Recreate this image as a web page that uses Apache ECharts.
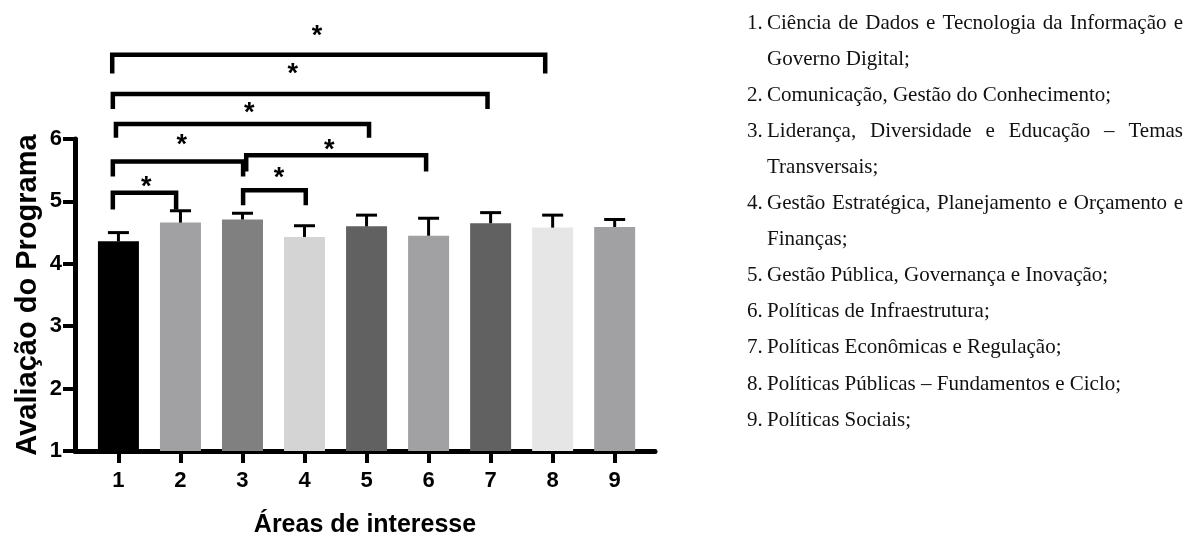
<!DOCTYPE html>
<html>
<head>
<meta charset="utf-8">
<script src="https://cdn.jsdelivr.net/npm/echarts@6/dist/echarts.min.js"></script>
<style>
  html, body { margin: 0; padding: 0; background: #ffffff; }
  #chart { width: 1190px; height: 543px; }
</style>
</head>
<body>
<div id="chart"></div>
<script>
// Áreas de interesse 1–9: mean evaluation and top of the error bar
const areas = [1, 2, 3, 4, 5, 6, 7, 8, 9];
const means = [4.36, 4.66, 4.71, 4.43, 4.60, 4.45, 4.65, 4.58, 4.59];
const upper = [4.50, 4.85, 4.81, 4.61, 4.78, 4.73, 4.82, 4.78, 4.71];
const barColors = ['#000000', '#a1a1a4', '#808080', '#d4d4d4', '#616161',
                   '#a1a1a4', '#616161', '#e6e6e6', '#a1a1a4'];
const yTicks = [1, 2, 3, 4, 5, 6];

// Significance brackets (area axis ends, bracket level, foot level) and their stars
const bracketFrom = [0.90, 0.91, 0.96, 0.91, 3.06, 0.91, 3.01];
const bracketTo   = [7.88, 6.95, 5.04, 3.01, 5.96, 1.93, 4.02];
const bracketTop  = [7.35, 6.72, 6.24, 5.64, 5.74, 5.14, 5.18];
const bracketFoot = [7.05, 6.48, 6.02, 5.40, 5.48, 4.87, 4.94];
const starX = [4.20, 3.81, 3.11, 2.02, 4.40, 1.45, 3.59];
const starY = [7.74, 7.14, 6.51, 5.99, 5.91, 5.32, 5.46];

// Key of the numbered areas
const legendItems = [
  'Ciência de Dados e Tecnologia da Informação e Governo Digital;',
  'Comunicação, Gestão do Conhecimento;',
  'Liderança, Diversidade e Educação – Temas Transversais;',
  'Gestão Estratégica, Planejamento e Orçamento e Finanças;',
  'Gestão Pública, Governança e Inovação;',
  'Políticas de Infraestrutura;',
  'Políticas Econômicas e Regulação;',
  'Políticas Públicas – Fundamentos e Ciclo;',
  'Políticas Sociais;'
];

const SANS = '"Liberation Sans", Arial, sans-serif';
const STAR_SIZE = 27;
const STAR_FONT = 'bold ' + STAR_SIZE + 'px ' + SANS;

// ---- justified, hanging-indent key on the right ----
const LEG_FONT = '21px "Liberation Serif", "Times New Roman", serif';
const legNumX = 747, legTextX = 767, legRight = 1183, legTop = 23, legStep = 36.1;
const measureCtx = document.createElement('canvas').getContext('2d');
measureCtx.font = LEG_FONT;
const textW = s => measureCtx.measureText(s).width;

const legendGraphics = [];
function legText(x, y, text) {
  legendGraphics.push({
    type: 'text', x: x, y: y, silent: true,
    style: { text: text, font: LEG_FONT, fill: '#111111', align: 'left', verticalAlign: 'middle' }
  });
}
let row = 0;
legendItems.forEach(function (item, i) {
  const words = item.split(' ');
  const lines = [];
  let cur = [];
  words.forEach(function (word) {
    const trial = cur.concat(word).join(' ');
    if (cur.length && textW(trial) > legRight - legTextX) { lines.push(cur); cur = [word]; }
    else cur.push(word);
  });
  lines.push(cur);
  legText(legNumX, legTop + row * legStep, (i + 1) + '.');
  lines.forEach(function (ws, li) {
    const y = legTop + row * legStep;
    if (li === lines.length - 1 || ws.length < 2) {
      legText(legTextX, y, ws.join(' '));
    } else {
      const total = ws.reduce(function (s, x) { return s + textW(x); }, 0);
      const gap = (legRight - legTextX - total) / (ws.length - 1);
      let x = legTextX;
      ws.forEach(function (word) { legText(x, y, word); x += textW(word) + gap; });
    }
    row++;
  });
});

// ---- chart ----
const chart = echarts.init(document.getElementById('chart'), null, { renderer: 'canvas' });

const barData = areas.map(function (a, i) {
  return { value: [a, means[i]], itemStyle: { color: barColors[i] } };
});
const errData = areas.map(function (a, i) { return [a, means[i], upper[i]]; });
const bracketData = bracketFrom.map(function (f, i) {
  return [f, bracketTop[i], bracketTo[i], bracketFoot[i]];
});
const starData = starX.map(function (x, i) { return [x, starY[i]]; });

const option = {
  animation: false,
  backgroundColor: '#ffffff',
  grid: { left: 75, right: 535, top: 139, bottom: 89 },
  xAxis: {
    type: 'value',
    min: 0.3,
    max: 9.65,
    name: 'Áreas de interesse',
    nameLocation: 'middle',
    nameGap: 62,
    nameTextStyle: { fontFamily: SANS, fontWeight: 'bold', fontSize: 25, color: '#000' },
    axisLine: { show: true, onZero: false, lineStyle: { color: '#000', width: 5 } },
    axisTick: { show: true, length: 12, customValues: areas, lineStyle: { color: '#000', width: 4 } },
    axisLabel: {
      customValues: areas, margin: 19,
      fontFamily: SANS, fontWeight: 'bold', fontSize: 22, color: '#000'
    },
    splitLine: { show: false }
  },
  yAxis: {
    type: 'value',
    min: 1,
    max: 6,
    interval: 1,
    name: 'Avaliação do Programa',
    nameLocation: 'middle',
    nameRotate: 90,
    nameGap: 33,
    nameTextStyle: { fontFamily: SANS, fontWeight: 'bold', fontSize: 29, color: '#000' },
    axisLine: { show: true, onZero: false, lineStyle: { color: '#000', width: 5 } },
    axisTick: { show: true, length: 12, lineStyle: { color: '#000', width: 4 } },
    axisLabel: {
      margin: 13,
      fontFamily: SANS, fontWeight: 'bold', fontSize: 22, color: '#000'
    },
    splitLine: { show: false }
  },
  graphic: legendGraphics,
  series: [
    {
      type: 'bar',
      barWidth: 41,
      data: barData,
      z: 2
    },
    {
      // upper error bars
      type: 'custom',
      z: 3,
      data: errData,
      renderItem: function (params, api) {
        const x = api.value(0);
        const p0 = api.coord([x, api.value(1)]);
        const p1 = api.coord([x, api.value(2)]);
        const half = 10.5;
        const st = { stroke: '#000', lineWidth: 3, fill: 'none' };
        return {
          type: 'group',
          children: [
            { type: 'line', shape: { x1: p0[0], y1: p0[1], x2: p1[0], y2: p1[1] }, style: st },
            { type: 'line', shape: { x1: p1[0] - half, y1: p1[1], x2: p1[0] + half, y2: p1[1] }, style: st }
          ]
        };
      }
    },
    {
      // significance brackets above the bars
      type: 'custom',
      z: 4,
      clip: false,
      data: bracketData,
      renderItem: function (params, api) {
        const a = api.coord([api.value(0), api.value(3)]);
        const b = api.coord([api.value(0), api.value(1)]);
        const c = api.coord([api.value(2), api.value(1)]);
        const d = api.coord([api.value(2), api.value(3)]);
        return {
          type: 'polyline',
          shape: { points: [a, b, c, d] },
          style: { stroke: '#000', lineWidth: 4.5, fill: 'none', lineJoin: 'miter', lineCap: 'butt' }
        };
      }
    },
    {
      // asterisks marking significant differences
      type: 'custom',
      z: 5,
      clip: false,
      data: starData,
      renderItem: function (params, api) {
        const p = api.coord([api.value(0), api.value(1)]);
        return {
          type: 'text',
          x: p[0],
          y: p[1] + STAR_SIZE * 0.23,
          style: { text: '*', font: STAR_FONT, fill: '#000', align: 'center', verticalAlign: 'middle' }
        };
      }
    }
  ]
};

chart.setOption(option);
</script>
</body>
</html>
